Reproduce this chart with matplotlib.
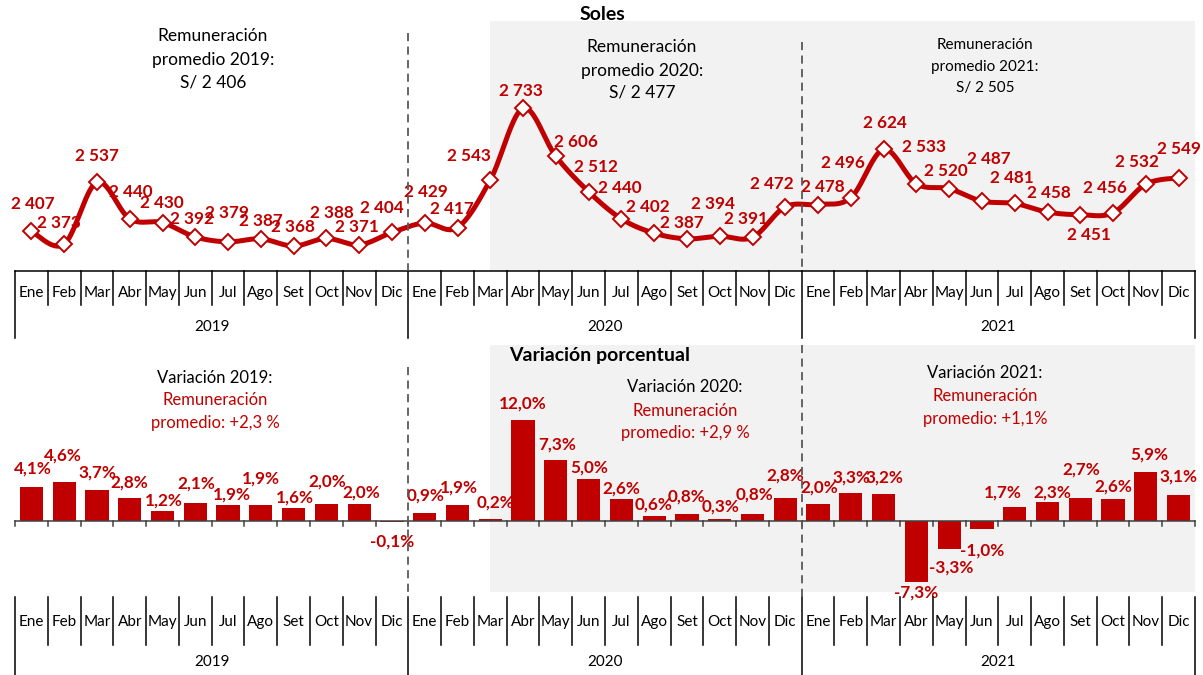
import numpy as np
import matplotlib
matplotlib.use('Agg')
import matplotlib.pyplot as plt
from matplotlib.transforms import blended_transform_factory as btf
from matplotlib.lines import Line2D

plt.rcParams['font.family'] = ['Lato', 'DejaVu Sans']

# ---------------- data ----------------
months = ['Ene', 'Feb', 'Mar', 'Abr', 'May', 'Jun', 'Jul', 'Ago', 'Set', 'Oct', 'Nov', 'Dic']
years = ['2019', '2020', '2021']
soles_2019 = [2407, 2373, 2537, 2440, 2430, 2392, 2379, 2387, 2368, 2388, 2371, 2404]
soles_2020 = [2429, 2417, 2543, 2733, 2606, 2512, 2440, 2402, 2387, 2394, 2391, 2472]
soles_2021 = [2478, 2496, 2624, 2533, 2520, 2487, 2481, 2458, 2451, 2456, 2532, 2549]
var_2019 = [4.1, 4.6, 3.7, 2.8, 1.2, 2.1, 1.9, 1.9, 1.6, 2.0, 2.0, -0.1]
var_2020 = [0.9, 1.9, 0.2, 12.0, 7.3, 5.0, 2.6, 0.6, 0.8, 0.3, 0.8, 2.8]
var_2021 = [2.0, 3.3, 3.2, -7.3, -3.3, -1.0, 1.7, 2.3, 2.7, 2.6, 5.9, 3.1]
prom_soles = ['S/ 2 406', 'S/ 2 477', 'S/ 2 505']
prom_var = ['+2,3 %', '+2,9 %', '+1,1%']

soles = soles_2019 + soles_2020 + soles_2021
var = var_2019 + var_2020 + var_2021
n = len(soles)
x = np.arange(n)

# label offsets in pixels (dx right, dy down) -- styling only
soles_off = [(1, -27), (-5, -21), (0, -26), (1, -27), (-1, -20), (-3, -18), (-1, -29), (0, -18),
             (-1, -19), (5, -25), (-2, -18), (-10, -24),
             (1, -31), (-6, -19), (-21, -24), (-2, -17), (20, -14), (7, -25), (-2, -31), (-6, -26),
             (-5, -16), (-7, -32), (-7, -18), (-13, -23),
             (5, -18), (-8, -35), (1, -26), (8, -37), (-3, -18), (7, -42), (-3, -25), (1, -19),
             (9, 20), (-8, -25), (-9, -22), (0, -29)]
var_off = [(1, -18), (-1, -27), (0, -17), (0, -15), (1, -10), (1, -20), (4, -11), (0, -27),
           (1, -10), (1, -23), (2, -12), (0, 20),
           (1, -18), (1, -18), (5, -17), (0, -17), (1, -15), (1, -12), (0, -11), (-1, -11),
           (0, -18), (1, -12), (2, -20), (0, -22),
           (1, -17), (1, -16), (1, -17), (0, 10), (2, 19), (0, 21), (-12, -14), (5, -9),
           (1, -29), (0, -13), (3, -17), (0, -18)]

RED = '#C00000'
GRAY_BG = '#F2F2F2'
DASH = '#595959'

W, H = 1203, 675
fig = plt.figure(figsize=(W / 100, H / 100), dpi=100)


def fy(py):
    return 1 - py / H


def fx(px):
    return px / W


L, R = 15, 1195
ax1 = fig.add_axes([fx(L), fy(271), (R - L) / W, (271 - 21) / H])
ax2 = fig.add_axes([fx(L), fy(592), (R - L) / W, (592 - 345) / H])

for ax in (ax1, ax2):
    ax.set_xlim(-0.5, n - 0.5)
    for s in ax.spines.values():
        s.set_visible(False)
    ax.set_xticks([])
    ax.set_yticks([])
    ax.patch.set_alpha(0)
    ax.axvspan(14, n - 0.5, color=GRAY_BG, zorder=0, lw=0)

ax1.set_ylim(2301.7, 2964.8)
ax2.set_ylim(-8.46, 20.98)


# ---------------- smoothed line (Excel-like bezier through the points) ----------------
def smooth(xs, ys, k=24):
    P = np.column_stack([np.asarray(xs, float), np.asarray(ys, float)])
    ext = np.vstack([P[0], P, P[-1]])
    t = np.linspace(0, 1, k, endpoint=False)[:, None]
    out = []
    for i in range(len(P) - 1):
        p0, p1, p2, p3 = ext[i], ext[i + 1], ext[i + 2], ext[i + 3]
        c1 = p1 + (p2 - p0) / 6
        c2 = p2 - (p3 - p1) / 6
        out.append((1 - t) ** 3 * p1 + 3 * (1 - t) ** 2 * t * c1 + 3 * (1 - t) * t ** 2 * c2 + t ** 3 * p2)
    out.append(P[-1:])
    return np.vstack(out)


curve = smooth(x, soles)
ax1.plot(curve[:, 0], curve[:, 1], color=RED, lw=3.6, zorder=3, solid_capstyle='round')
ax1.plot(x, soles, ls='none', marker='D', ms=7.8, mfc='white', mec=RED, mew=1.4, zorder=4)

for i, v in enumerate(soles):
    dx, dy = soles_off[i]
    ax1.annotate(f"{v:,}".replace(',', ' '), (x[i], v), xytext=(dx, -dy), textcoords='offset pixels',
                 ha='center', va='center', color=RED, fontsize=12.3, fontweight='bold', zorder=5)

# ---------------- bars ----------------
ax2.bar(x, var, width=0.71, color=RED, zorder=3)
for i, v in enumerate(var):
    dx, dy = var_off[i]
    ax2.annotate(f"{v:.1f}%".replace('.', ','), (x[i], v), xytext=(dx, -dy), textcoords='offset pixels',
                 ha='center', va='center', color=RED, fontsize=12.3, fontweight='bold', zorder=5)

# ---------------- axes lines / category bands ----------------
bounds = np.arange(-0.5, n, 1.0)
year_bounds = [-0.5, 11.5, 23.5, 35.5]


def band(ax, y_top, y_tick, y_year, y_mlab, y_ylab, hline):
    tr = btf(ax.transData, fig.transFigure)
    if hline:
        fig.add_artist(Line2D([fx(L), fx(R)], [fy(y_top), fy(y_top)], color='black', lw=1.1))
    for b in bounds:
        yend = y_year if b in year_bounds else y_tick
        fig.add_artist(Line2D([b, b], [fy(y_top), fy(yend)], color='black', lw=1.1, transform=tr))
    for i in range(n):
        fig.text(x[i], fy(y_mlab), months[i % 12], transform=tr, ha='center', va='center',
                 fontsize=11, color='black')
    for k, yr in enumerate(years):
        fig.text(5.5 + 12 * k, fy(y_ylab), yr, transform=tr, ha='center', va='center',
                 fontsize=11, color='black')


band(ax1, 271, 305, 338, 293, 327, True)
band(ax2, 597, 645, 675, 622, 662, False)

# zero line with small ticks
tr2 = btf(ax2.transData, fig.transFigure)
fig.add_artist(Line2D([fx(L), fx(R)], [fy(521), fy(521)], color='#404040', lw=1.1))
for b in bounds:
    fig.add_artist(Line2D([b, b], [fy(521), fy(526)], color='#404040', lw=1.1, transform=tr2))

# dashed separators
tr1 = btf(ax1.transData, fig.transFigure)
for xb, y0, y1, tr in [(11.5, 33, 271, tr1), (23.5, 42, 271, tr1),
                       (11.5, 367, 598, tr2), (23.5, 345, 598, tr2)]:
    fig.add_artist(Line2D([xb, xb], [fy(y0), fy(y1)], color=DASH, lw=1.3, dashes=(4.5, 3), transform=tr))

# ---------------- titles & annotations ----------------
fig.text(fx(602), fy(15), 'Soles', ha='center', va='center', fontsize=14, fontweight='bold')
fig.text(fx(600), fy(355), 'Variación porcentual', ha='center', va='center', fontsize=14, fontweight='bold')

top_ann = [(213, [36, 60, 82], 12.5), (642, [47, 71, 93], 12.5), (985, [45, 67, 88], 11)]
for k, (cx, ys, fs) in enumerate(top_ann):
    lines = ['Remuneración', f'promedio {years[k]}:', prom_soles[k]]
    for t, yy in zip(lines, ys):
        fig.text(fx(cx), fy(yy), t, ha='center', va='center', fontsize=fs, color='black')

bot_ann = [(215, [378, 400, 423]), (685, [387, 411, 433]), (985, [373, 396, 419])]
for k, (cx, ys) in enumerate(bot_ann):
    fig.text(fx(cx), fy(ys[0]), f'Variación {years[k]}:', ha='center', va='center', fontsize=12, color='black')
    fig.text(fx(cx), fy(ys[1]), 'Remuneración', ha='center', va='center', fontsize=12, color=RED)
    fig.text(fx(cx), fy(ys[2]), f'promedio: {prom_var[k]}', ha='center', va='center', fontsize=12, color=RED)

fig.savefig('out.png', dpi=100)
